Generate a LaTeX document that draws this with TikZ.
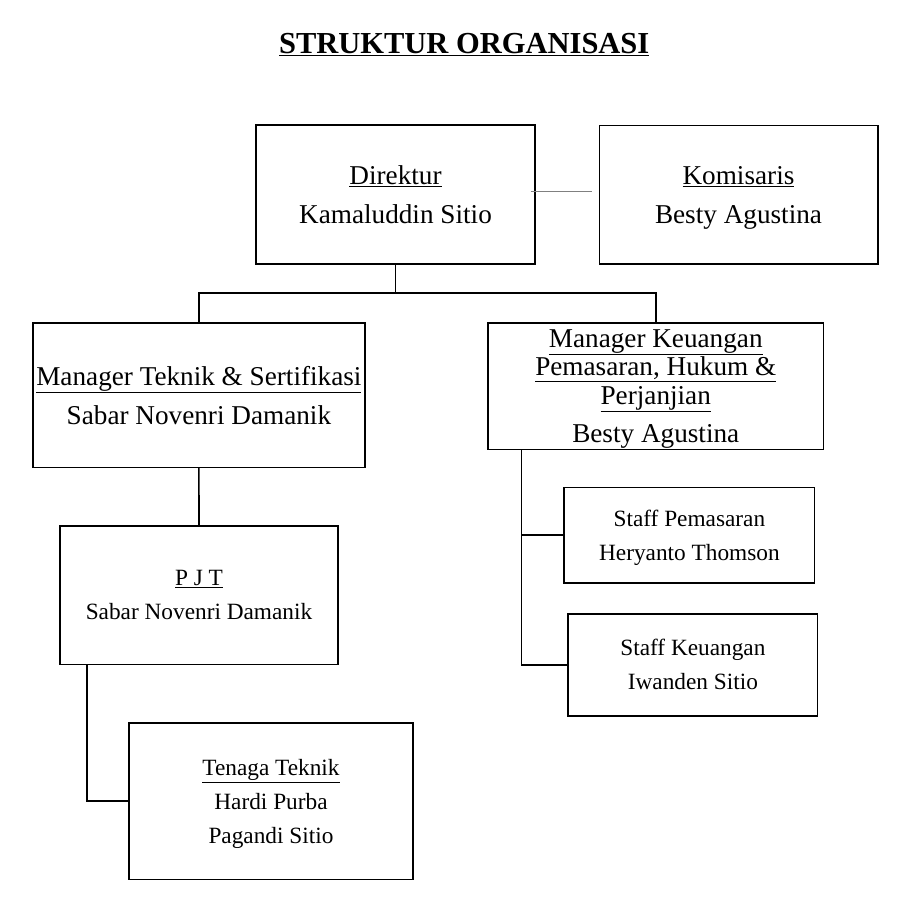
\documentclass[tikz,border=0pt]{standalone}
\usepackage{fontspec}
\setmainfont{Liberation Serif}
\usepackage{tikz}

\begin{document}
\begin{tikzpicture}[x=1pt,y=-1pt,
  kotak/.style={draw,line width=1.6pt,inner sep=0pt,align=center,text depth=0pt},
  besar/.style={font=\fontsize{27.2}{39}\selectfont},
  kecil/.style={font=\fontsize{23.3}{34}\selectfont},
  garis/.style={line width=1.6pt}]
\useasboundingbox (0,0) rectangle (903,905);
\node[anchor=base,font=\fontsize{30.5}{36}\selectfont\bfseries] (judul) at (464.2,53.3) {\underline{STRUKTUR ORGANISASI}};
\node[kotak,besar,minimum width=278.6pt,minimum height=139pt] (dir) at (395.5,194.7) {\underline{Direktur}\\Kamaluddin Sitio};
\node[kotak,besar,minimum width=278.4pt,minimum height=138.7pt] (kom) at (738.5,194.7) {\underline{Komisaris}\\Besty Agustina};
\node[kotak,besar,minimum width=332.2pt,minimum height=144.6pt] (mt) at (198.9,395) {\underline{Manager Teknik \& Sertifikasi}\\Sabar Novenri Damanik};
\node[kotak,besar,font=\fontsize{27.2}{28.5}\selectfont,minimum width=335.1pt,minimum height=126.6pt] (mk) at (655.75,386) {\underline{Manager Keuangan}\\\underline{Pemasaran, Hukum \&}\\\underline{Perjanjian}\\[9.5pt]Besty Agustina};
\node[kotak,kecil,minimum width=278.1pt,minimum height=138.6pt] (pjt) at (199,595) {\underline{P J T}\\Sabar Novenri Damanik};
\node[kotak,kecil,minimum width=283.8pt,minimum height=156.3pt] (tn) at (271,801.2) {\underline{Tenaga Teknik}\\Hardi Purba\\Pagandi Sitio};
\node[kotak,kecil,minimum width=250.4pt,minimum height=95.7pt] (sp) at (689.4,535.2) {Staff Pemasaran\\Heryanto Thomson};
\node[kotak,kecil,minimum width=249.3pt,minimum height=102pt] (sk) at (692.9,664.7) {Staff Keuangan\\Iwanden Sitio};
\coordinate (cabang) at (395.5,293);
\draw[garis] (dir.south) -- (cabang) -| (mt.north);
\draw[garis] (cabang) -| (mk.north);
\draw[garis] (mt.south) -- (pjt.north);
\draw[garis] ([xshift=27.6pt]pjt.south west) |- (tn.west);
\draw[garis] ([xshift=34pt]mk.south west) |- (sp.west);
\draw[garis] ([xshift=34pt]mk.south west) |- (sk.west);
\draw[gray,line width=1.2pt] ([shift={(-5pt,3.4pt)}]dir.east) -- ([shift={(-6.6pt,3.4pt)}]kom.west);
\end{tikzpicture}
\end{document}
